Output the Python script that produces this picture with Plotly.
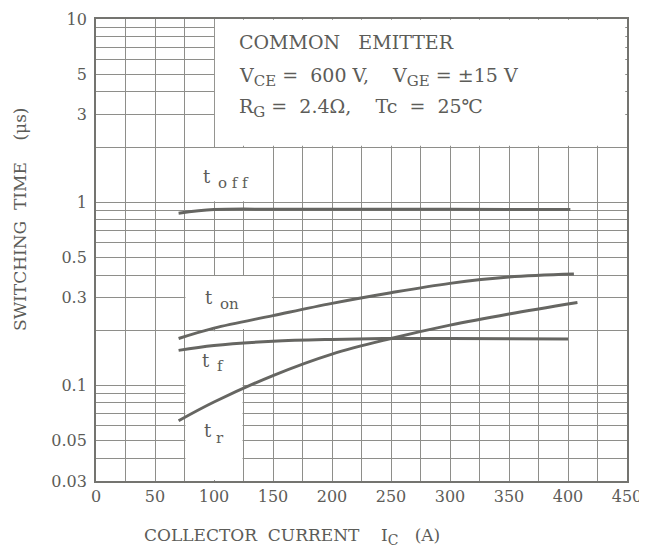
import numpy as np
import plotly.graph_objects as go

# ---- data ----
ic_off = [70, 100, 150, 200, 300, 402]
t_off = [0.87, 0.91, 0.915, 0.915, 0.915, 0.91]

ic_on = [70, 100, 150, 200, 250, 300, 350, 405]
t_on = [0.18, 0.205, 0.24, 0.28, 0.32, 0.36, 0.39, 0.405]

ic_f = [70, 100, 150, 200, 250, 300, 400]
t_f = [0.155, 0.165, 0.174, 0.178, 0.18, 0.18, 0.179]

ic_r = [70, 100, 150, 200, 250, 300, 350, 408]
t_r = [0.064, 0.081, 0.113, 0.148, 0.180, 0.213, 0.245, 0.283]

x_ticks = [0, 50, 100, 150, 200, 250, 300, 350, 400, 450]
y_ticks = [0.03, 0.05, 0.1, 0.3, 0.5, 1, 3, 5, 10]
y_ticktext = ["0.03", "0.05", "0.1", "0.3", "0.5", "1", "3", "5", "10"]
y_minor = [m * d for d in (0.01, 0.1, 1) for m in range(1, 10) if 0.03 <= m * d <= 10]

FONT = "DejaVu Serif"
TXT = "#5c5c58"
GRID = "#8e8e8a"
CURVE = "#666662"

# the page body has an 8px margin: plot area spans page px 96..627 x 19..481
OFF = 8
PL, PR, PT, PB = 96, 627, 19, 481
W, H = 647 - OFF, 548 - OFF
L, T = PL - OFF, PT - OFF
R, B = W - (PR - OFF), H - (PB - OFF)
PW, PH = PR - PL, PB - PT
YLO, YHI = np.log10(0.03), 1.0


def px_x(px):  # page pixel -> x data
    return (px - PL) / PW * 450


def px_ly(py):  # page pixel -> log10 y
    return YHI - (py - PT) / PH * (YHI - YLO)


def px_paper(px, py):
    return (px - PL) / PW, (PB - py) / PH


fig = go.Figure()
for xs, ys in [(ic_off, t_off), (ic_on, t_on), (ic_f, t_f), (ic_r, t_r)]:
    fig.add_trace(go.Scatter(x=xs, y=ys, mode="lines", line=dict(color=CURVE, width=3, shape="spline"),
                             showlegend=False, hoverinfo="skip"))

# white label areas that hide the grid (like the printed chart)
masks = [(100.8, 448.5, 2.03, 9.9), (75.8, 149.2, 1.012, 1.975), (75.8, 149.2, 0.203, 0.395),
         (75.8, 124.2, 0.0304, 0.197)]
for x0, x1, y0, y1 in masks:
    fig.add_shape(type="rect", xref="x", yref="y", x0=x0, x1=x1, y0=y0, y1=y1,
                  fillcolor="white", line=dict(width=0), layer="between")

ann = []


def lab(px, py, text, size):
    ann.append(dict(x=px_x(px), y=px_ly(py), xref="x", yref="y", text=text, showarrow=False,
                    xanchor="center", yanchor="middle",
                    font=dict(family=FONT, size=size, color=TXT)))


# curve labels: "t" and its subscript
lab(207, 176, "t", 18)
lab(233, 183, "o f f", 15)
lab(209, 297, "t", 18)
lab(229, 304, "on", 15)
lab(205.5, 360, "t", 18)
lab(220, 366, "f", 15)
lab(207.5, 430, "t", 18)
lab(220, 438, "r", 15)


def sub(s, size=15):
    return "<sub><span style='font-size:%dpx'>%s</span></sub>" % (size, s)


for py, text in [(42, "COMMON   EMITTER"),
                 (77, "V" + sub("CE") + " =  600 V,    V" + sub("GE") + " = ±15 V"),
                 (108, "R" + sub("G") + " =  2.4Ω,    Tc  =  25℃")]:
    xp, yp = px_paper(237, py)
    ann.append(dict(x=xp, y=yp, xref="paper", yref="paper", xanchor="left", yanchor="middle",
                    text=text, showarrow=False, font=dict(family=FONT, size=19, color=TXT)))

xp, yp = px_paper(20, 219)
ann.append(dict(x=xp, y=yp, xref="paper", yref="paper", textangle=-90, xanchor="center", yanchor="middle",
                text="SWITCHING  TIME    (μs)", showarrow=False,
                font=dict(family=FONT, size=17, color=TXT)))
xp, yp = px_paper(292, 536)
ann.append(dict(x=xp, y=yp, xref="paper", yref="paper", xanchor="center", yanchor="middle",
                text="COLLECTOR  CURRENT    I" + sub("C", 14) + "   (A)", showarrow=False,
                font=dict(family=FONT, size=17, color=TXT)))

fig.update_layout(
    width=W, height=H,
    margin=dict(l=L, r=R, t=T, b=B, autoexpand=False),
    paper_bgcolor="white", plot_bgcolor="white",
    annotations=ann,
    xaxis=dict(range=[0, 450], tickvals=x_ticks, showgrid=True, gridcolor=GRID, gridwidth=1.2,
               minor=dict(dtick=25, showgrid=True, gridcolor=GRID, gridwidth=1.2, ticks=""),
               showline=True, linecolor="#747470", linewidth=1.8, mirror=True, ticks="",
               automargin=False, zeroline=False, tickfont=dict(family=FONT, size=16, color=TXT)),
    yaxis=dict(type="log", range=[YLO, YHI], tickvals=y_ticks, ticktext=y_ticktext,
               showgrid=True, gridcolor=GRID, gridwidth=1.2,
               minor=dict(tickvals=y_minor, showgrid=True, gridcolor=GRID, gridwidth=1.2, ticks=""),
               showline=True, linecolor="#747470", linewidth=1.8, mirror=True, ticks="",
               automargin=False, zeroline=False, ticklabelstandoff=4,
               tickfont=dict(family=FONT, size=16, color=TXT)),
)

fig.write_html("out.html")
